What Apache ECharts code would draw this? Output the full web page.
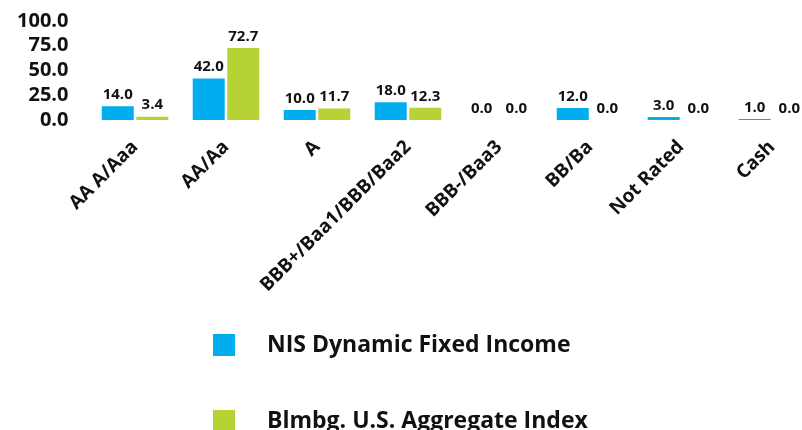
<!DOCTYPE html>
<html>
<head>
<meta charset="utf-8">
<script src="https://cdn.jsdelivr.net/npm/echarts@6/dist/echarts.min.js"></script>
<style>
  html, body { margin: 0; padding: 0; background: #fff; }
  #chart { width: 802px; height: 430px; }
</style>
</head>
<body>
<div id="chart"></div>
<script>
// Credit quality breakdown (%)
const categories = ['AA A/Aaa', 'AA/Aa', 'A', 'BBB+/Baa1/BBB/Baa2', 'BBB-/Baa3', 'BB/Ba', 'Not Rated', 'Cash'];
const fundName = 'NIS Dynamic Fixed Income';
const indexName = 'Blmbg. U.S. Aggregate Index';
const fundValues = [14.0, 42.0, 10.0, 18.0, 0.0, 12.0, 3.0, 1.0];
const indexValues = [3.4, 72.7, 11.7, 12.3, 0.0, 0.0, 0.0, 0.0];
const yTicks = [0, 25, 50, 75, 100];

const FONT = '"Open Sans", sans-serif';
const INK = '#111';

const chart = echarts.init(document.getElementById('chart'));

const labelStyle = {
  show: true,
  position: 'top',
  distance: 4,
  color: INK,
  fontFamily: FONT,
  fontWeight: 'bold',
  fontSize: 15,
  formatter: p => p.value.toFixed(1)
};

// one stacked legend entry per series
function legendEntry(name, top) {
  return {
    orient: 'vertical',
    left: 208,
    top: top,
    itemWidth: 22,
    itemHeight: 22,
    icon: 'rect',
    textStyle: {
      fontFamily: FONT,
      fontWeight: 'bold',
      fontSize: 23,
      color: INK,
      lineHeight: 24,
      padding: [0, 0, 0, 27]
    },
    data: [name]
  };
}

chart.setOption({
  animation: false,
  backgroundColor: '#fff',
  grid: {
    left: 89.5, top: 21, width: 728, height: 99,
    containLabel: false,
    outerBoundsMode: 'none'
  },
  legend: [legendEntry(fundName, 328), legendEntry(indexName, 404)],
  xAxis: {
    type: 'category',
    data: categories,
    axisLine: { show: false },
    axisTick: { show: false },
    axisLabel: {
      interval: 0,
      rotate: 45,
      margin: 24,
      color: INK,
      fontFamily: FONT,
      fontWeight: 'bold',
      fontSize: 19
    }
  },
  yAxis: {
    type: 'value',
    min: yTicks[0],
    max: yTicks[yTicks.length - 1],
    interval: yTicks[1] - yTicks[0],
    axisLine: { show: false },
    axisTick: { show: false },
    splitLine: { show: false },
    axisLabel: {
      margin: 21,
      color: INK,
      fontFamily: FONT,
      fontWeight: 'bold',
      fontSize: 20,
      padding: [4, 0, 0, 0],
      formatter: v => v.toFixed(1)
    }
  },
  series: [
    {
      name: fundName,
      type: 'bar',
      data: fundValues,
      barWidth: 32,
      barGap: '8%',
      itemStyle: { color: '#00AEEF' },
      label: labelStyle
    },
    {
      name: indexName,
      type: 'bar',
      data: indexValues,
      barWidth: 32,
      barGap: '8%',
      itemStyle: { color: '#B5D334' },
      label: labelStyle
    }
  ]
});
</script>
</body>
</html>
